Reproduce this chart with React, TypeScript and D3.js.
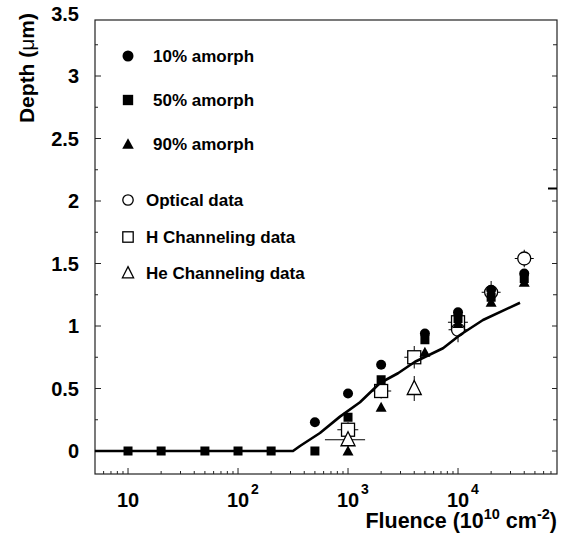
import React from "react";
import * as d3 from "d3";

// ---------- data ----------
const lineFluence = [5, 316, 366, 556, 845, 1285, 1954, 2848, 4064, 7305, 10420, 16870, 36600];
const lineDepth = [0, 0, 0.04, 0.144, 0.275, 0.39, 0.544, 0.622, 0.714, 0.822, 0.928, 1.048, 1.186];

const amorph10Fluence = [500, 1000, 2000, 5000, 10000, 20000, 40000];
const amorph10Depth = [0.23, 0.46, 0.69, 0.94, 1.11, 1.29, 1.42];

const amorph50Fluence = [10, 20, 50, 100, 200, 500, 1000, 2000, 5000, 10000, 20000, 40000];
const amorph50Depth = [0, 0, 0, 0, 0, 0, 0.27, 0.57, 0.89, 1.06, 1.23, 1.38];

const amorph90Fluence = [1000, 2000, 5000, 10000, 20000, 40000];
const amorph90Depth = [0, 0.35, 0.79, 1.02, 1.19, 1.35];

const opticalFluence = [10000, 20000, 40000];
const opticalDepth = [0.97, 1.27, 1.54];
const opticalDepthErr = [0.1, 0.09, 0.07];
const opticalFluenceLow = [8200, 16400, 32800];
const opticalFluenceHigh = [12200, 24400, 48800];

const hChanFluence = [1000, 2000, 4000, 10000];
const hChanDepth = [0.17, 0.48, 0.75, 1.03];
const hChanDepthErr = [0.06, 0.06, 0.09, 0.06];
const hChanFluenceLow = [800, 1620, 3250, 8100];
const hChanFluenceHigh = [1240, 2470, 4930, 12300];

const heChanFluence = [1000, 4000];
const heChanDepth = [0.09, 0.5];
const heChanDepthErr = [0.06, 0.1];
const heChanFluenceLow = [617, 4000];
const heChanFluenceHigh = [1430, 4000];

const yTickLabels = ["0", "0.5", "1", "1.5", "2", "2.5", "3", "3.5"];
const yTickValues = [0, 0.5, 1, 1.5, 2, 2.5, 3, 3.5];
const xTickValues = [10, 100, 1000, 10000];
const xTickExponents = ["", "2", "3", "4"];
const rightMarkValues = [2.1];

const legendLabels = [
  "10% amorph",
  "50% amorph",
  "90% amorph",
  "Optical data",
  "H Channeling data",
  "He Channeling data",
];

// ---------- layout ----------
const W = 565;
const H = 545;
const L = 95;
const R = 557;
const T = 20;
const B = 474;
const FONT = "'Liberation Sans', Arial, Helvetica, sans-serif";

const x = d3.scaleLog().domain([5.01, 79400]).range([L, R]);
const y = d3.scaleLinear().domain([-0.184, 3.448]).range([B, T]);

function Marker({ kind, cx, cy, s = 1 }: { kind: string; cx: number; cy: number; s?: number }) {
  const sw = 1.3;
  switch (kind) {
    case "fc":
      return <circle cx={cx} cy={cy} r={5 * s} fill="#000" />;
    case "fs":
      return <rect x={cx - 4.5 * s} y={cy - 4.5 * s} width={9 * s} height={9 * s} fill="#000" />;
    case "ft":
      return (
        <path
          d={`M${cx},${cy - 5.5 * s} L${cx + 5.5 * s},${cy + 4.5 * s} L${cx - 5.5 * s},${cy + 4.5 * s} Z`}
          fill="#000"
        />
      );
    case "oc":
      return <circle cx={cx} cy={cy} r={6.5 * s} fill="#fff" stroke="#000" strokeWidth={sw} />;
    case "os":
      return (
        <rect
          x={cx - 6.5 * s}
          y={cy - 6.5 * s}
          width={13 * s}
          height={13 * s}
          fill="#fff"
          stroke="#000"
          strokeWidth={sw}
        />
      );
    case "ot":
      return (
        <path
          d={`M${cx},${cy - 8 * s} L${cx + 7 * s},${cy + 6 * s} L${cx - 7 * s},${cy + 6 * s} Z`}
          fill="#fff"
          stroke="#000"
          strokeWidth={sw}
        />
      );
    default:
      return null;
  }
}

function ErrorBars({
  fl,
  dp,
  de,
  lo,
  hi,
}: {
  fl: number[];
  dp: number[];
  de: number[];
  lo: number[];
  hi: number[];
}) {
  return (
    <g stroke="#000" strokeWidth={1}>
      {fl.map((f, i) => (
        <g key={i}>
          <line x1={x(f)} x2={x(f)} y1={y(dp[i] - de[i])} y2={y(dp[i] + de[i])} />
          {lo[i] !== hi[i] && <line x1={x(lo[i])} x2={x(hi[i])} y1={y(dp[i])} y2={y(dp[i])} />}
        </g>
      ))}
    </g>
  );
}

export default function App() {
  const linePath = d3
    .line<number>()
    .x((_, i) => x(lineFluence[i]))
    .y((d) => y(d))(lineDepth) as string;

  const xMinor: number[] = [];
  for (let e = 0; e <= 4; e++) {
    for (let m = 2; m <= 9; m++) {
      const v = m * Math.pow(10, e);
      if (v > 5.01 && v < 79400) xMinor.push(v);
    }
  }
  const yMinor: number[] = [];
  for (let v = 0.25; v < 3.44; v += 0.5) yMinor.push(v);
  const yMajor = yTickValues.filter((v) => v <= 3.44);

  const legendRows = [
    { kind: "fc", yy: 56, tx: 153, s: 1.1 },
    { kind: "fs", yy: 100, tx: 153, s: 1.15 },
    { kind: "ft", yy: 144, tx: 153, s: 1.05 },
    { kind: "oc", yy: 200, tx: 146, s: 0.8 },
    { kind: "os", yy: 237, tx: 146, s: 0.8 },
    { kind: "ot", yy: 273, tx: 146, s: 0.8 },
  ];

  return (
    <svg
      width={W}
      height={H}
      style={{ position: "absolute", left: 0, top: 0, background: "#fff" }}
      fontFamily={FONT}
    >
      <rect x={0} y={0} width={W} height={H} fill="#fff" />

      <rect x={L} y={T} width={R - L} height={B - T} fill="none" stroke="#222" strokeWidth={1.2} />

      <g stroke="#222" strokeWidth={1}>
        {xTickValues.map((v) => (
          <line key={"xm" + v} x1={x(v)} x2={x(v)} y1={B} y2={B - 6} />
        ))}
        {xMinor.map((v) => (
          <line key={"xn" + v} x1={x(v)} x2={x(v)} y1={B} y2={B - 3} />
        ))}
        {yMajor.map((v) => (
          <g key={"ym" + v}>
            <line x1={L} x2={L + 6} y1={y(v)} y2={y(v)} />
            <line x1={R} x2={R - 5} y1={y(v)} y2={y(v)} />
          </g>
        ))}
        {yMinor.map((v) => (
          <g key={"yn" + v}>
            <line x1={L} x2={L + 3} y1={y(v)} y2={y(v)} />
            <line x1={R} x2={R - 4} y1={y(v)} y2={y(v)} />
          </g>
        ))}
      </g>
      {rightMarkValues.map((v) => (
        <line key={"rm" + v} x1={R - 9} x2={R} y1={y(v)} y2={y(v)} stroke="#000" strokeWidth={2} />
      ))}

      <g fontSize={20} fontWeight="bold" textAnchor="end" fill="#000">
        {yTickValues.map((v, i) => (
          <text key={"yl" + v} x={79} y={y(v)} dy="0.36em">
            {yTickLabels[i]}
          </text>
        ))}
      </g>

      <g fontSize={20} fontWeight="bold" fill="#000">
        {xTickValues.map((v, i) => (
          <g key={"xl" + v}>
            <text x={x(v)} y={507} textAnchor="middle">
              10
            </text>
            {xTickExponents[i] && (
              <text x={x(v) + 13} y={494} fontSize={14}>
                {xTickExponents[i]}
              </text>
            )}
          </g>
        ))}
      </g>

      <text x={557} y={528} textAnchor="end" fontSize={21.5} fontWeight="bold" fill="#000">
        Fluence (10
        <tspan fontSize={14.5} dy={-9}>
          10
        </tspan>
        <tspan dy={9}> cm</tspan>
        <tspan fontSize={14.5} dy={-9}>
          -2
        </tspan>
        <tspan dy={9}>)</tspan>
      </text>
      <text
        transform="translate(34,68) rotate(-90)"
        textAnchor="middle"
        fontSize={21}
        fontWeight="bold"
        fill="#000"
      >
        Depth (<tspan fontWeight="normal">μ</tspan>m)
      </text>

      <ErrorBars fl={hChanFluence} dp={hChanDepth} de={hChanDepthErr} lo={hChanFluenceLow} hi={hChanFluenceHigh} />
      <ErrorBars fl={heChanFluence} dp={heChanDepth} de={heChanDepthErr} lo={heChanFluenceLow} hi={heChanFluenceHigh} />
      <ErrorBars
        fl={opticalFluence}
        dp={opticalDepth}
        de={opticalDepthErr}
        lo={opticalFluenceLow}
        hi={opticalFluenceHigh}
      />

      {hChanFluence.map((f, i) => (
        <Marker key={"os" + i} kind="os" cx={x(f)} cy={y(hChanDepth[i])} />
      ))}
      {heChanFluence.map((f, i) => (
        <Marker key={"ot" + i} kind="ot" cx={x(f)} cy={y(heChanDepth[i])} />
      ))}
      {opticalFluence.map((f, i) => (
        <Marker key={"oc" + i} kind="oc" cx={x(f)} cy={y(opticalDepth[i])} />
      ))}

      <path d={linePath} fill="none" stroke="#000" strokeWidth={2.6} strokeLinejoin="round" />

      {amorph90Fluence.map((f, i) => (
        <Marker key={"ft" + i} kind="ft" cx={x(f)} cy={y(amorph90Depth[i])} />
      ))}
      {amorph50Fluence.map((f, i) => (
        <Marker key={"fs" + i} kind="fs" cx={x(f)} cy={y(amorph50Depth[i])} />
      ))}
      {amorph10Fluence.map((f, i) => (
        <Marker key={"fc" + i} kind="fc" cx={x(f)} cy={y(amorph10Depth[i])} />
      ))}

      {legendRows.map((r, i) => (
        <g key={"lg" + i}>
          <Marker kind={r.kind} cx={128} cy={r.yy} s={r.s} />
          <text x={r.tx} y={r.yy} dy="0.36em" fontSize={17} fontWeight="bold" fill="#000">
            {legendLabels[i]}
          </text>
        </g>
      ))}
    </svg>
  );
}
